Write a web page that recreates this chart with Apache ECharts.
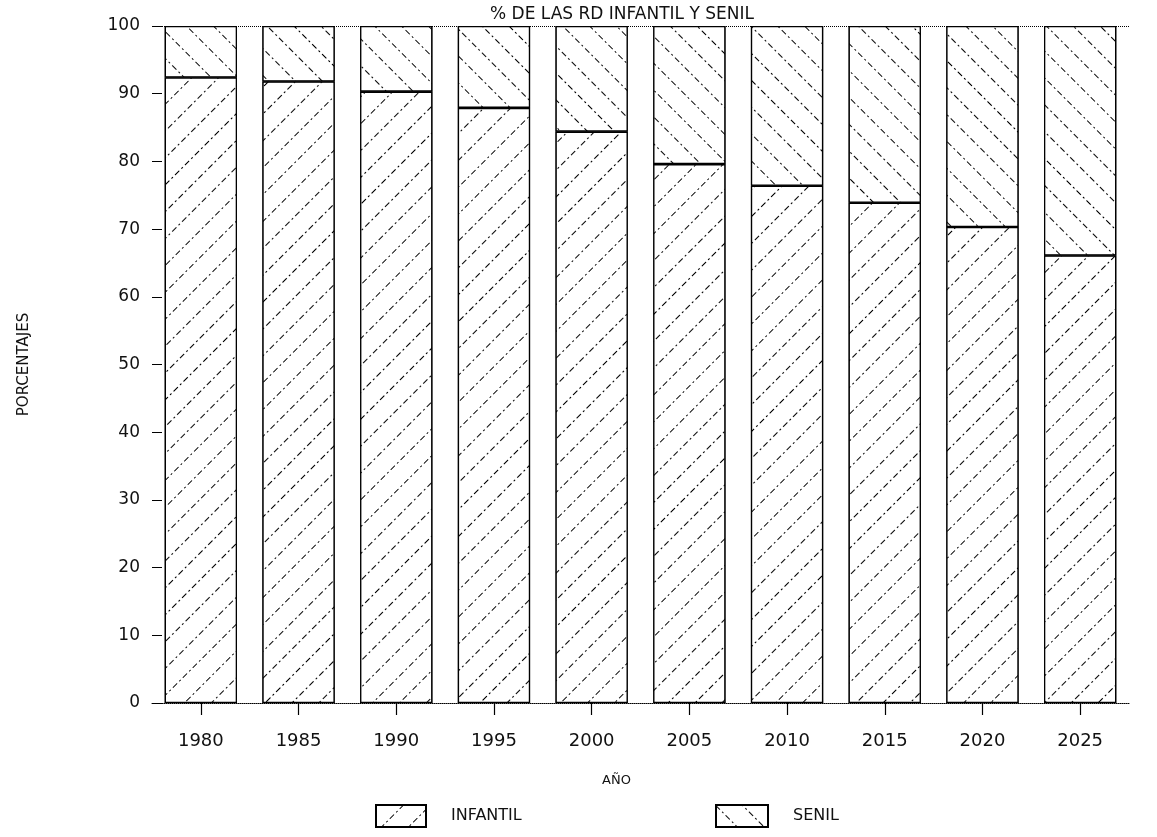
<!DOCTYPE html>
<html>
<head>
<meta charset="utf-8">
<script src="https://cdn.jsdelivr.net/npm/echarts@6/dist/echarts.min.js"></script>
<style>html,body{margin:0;padding:0;background:#fff;}#c{width:1157px;height:837px;}</style>
</head>
<body>
<div id="c"></div>
<script>
const years = ['1980','1985','1990','1995','2000','2005','2010','2015','2020','2025'];
const infantil = [92.4, 91.8, 90.3, 87.9, 84.4, 79.6, 76.4, 73.9, 70.3, 66.1];
const senil = [7.6, 8.2, 9.7, 12.1, 15.6, 20.4, 23.6, 26.1, 29.7, 33.9];
const yTicks = {min: 0, max: 100, interval: 10};

const FONT = 'DejaVu Sans';
const chart = echarts.init(document.getElementById('c'));
chart.setOption({
  backgroundColor: '#fff',
  animation: false,
  title: {
    text: '% DE LAS RD INFANTIL Y SENIL',
    left: 617, top: 1, textAlign: 'center',
    textStyle: {fontFamily: FONT, fontSize: 17, fontWeight: 'normal', color: '#111'}
  },
  legend: [
    {data: ['INFANTIL'], left: 370, top: 799, itemWidth: 50, itemHeight: 22, icon: 'rect',
     textStyle: {fontFamily: FONT, fontSize: 16, color: '#111', padding: [0,0,0,20]}},
    {data: ['SENIL'], left: 710, top: 799, itemWidth: 52, itemHeight: 22, icon: 'rect',
     textStyle: {fontFamily: FONT, fontSize: 16, color: '#111', padding: [0,0,0,20]}}
  ],
  grid: {left: 152, right: 28, top: 26, bottom: 134},
  xAxis: {
    type: 'category', data: years,
    name: 'AÑO', nameLocation: 'middle', nameGap: 71,
    nameTextStyle: {fontFamily: FONT, fontSize: 13, color: '#111', padding: [0, 48, 0, 0]},
    axisLine: {show: true, lineStyle: {color: '#000', type: 'dotted', width: 1}},
    axisTick: {show: true, alignWithLabel: true, length: 12, lineStyle: {color: '#000', width: 1.2}},
    axisLabel: {fontFamily: FONT, fontSize: 18, color: '#111', margin: 29}
  },
  yAxis: {
    type: 'value', min: yTicks.min, max: yTicks.max, interval: yTicks.interval,
    offset: -10,
    name: 'PORCENTAJES', nameLocation: 'middle', nameGap: 130, nameRotate: 90,
    nameTextStyle: {fontFamily: FONT, fontSize: 15, color: '#111'},
    axisLine: {show: false},
    axisTick: {show: true, length: 10, lineStyle: {color: '#000', width: 1}},
    splitLine: {show: false},
    axisLabel: {fontFamily: FONT, fontSize: 17, color: '#111', margin: 22}
  },
  series: [
    {
      name: 'INFANTIL', type: 'bar', stack: 'rd', data: infantil,
      barCategoryGap: '26%',
      itemStyle: {
        color: '#fff', borderColor: '#000', borderWidth: 1.3,
        decal: {symbol: 'rect', symbolSize: 1, color: '#000', backgroundColor: '#fff',
                dashArrayX: [6, 3, 1.5, 3], dashArrayY: [1, 18], rotation: -Math.PI / 4}
      }
    },
    {
      name: 'SENIL', type: 'bar', stack: 'rd', data: senil,
      itemStyle: {
        color: '#fff', borderColor: '#000', borderWidth: 1.3,
        decal: {symbol: 'rect', symbolSize: 1, color: '#000', backgroundColor: '#fff',
                dashArrayX: [6, 3, 1.5, 3], dashArrayY: [1, 18], rotation: Math.PI / 4}
      },
      markLine: {
        silent: true, symbol: 'none', label: {show: false},
        lineStyle: {color: '#000', type: 'dotted', width: 1},
        data: [{yAxis: 100}]
      }
    }
  ]
});
</script>
</body>
</html>
